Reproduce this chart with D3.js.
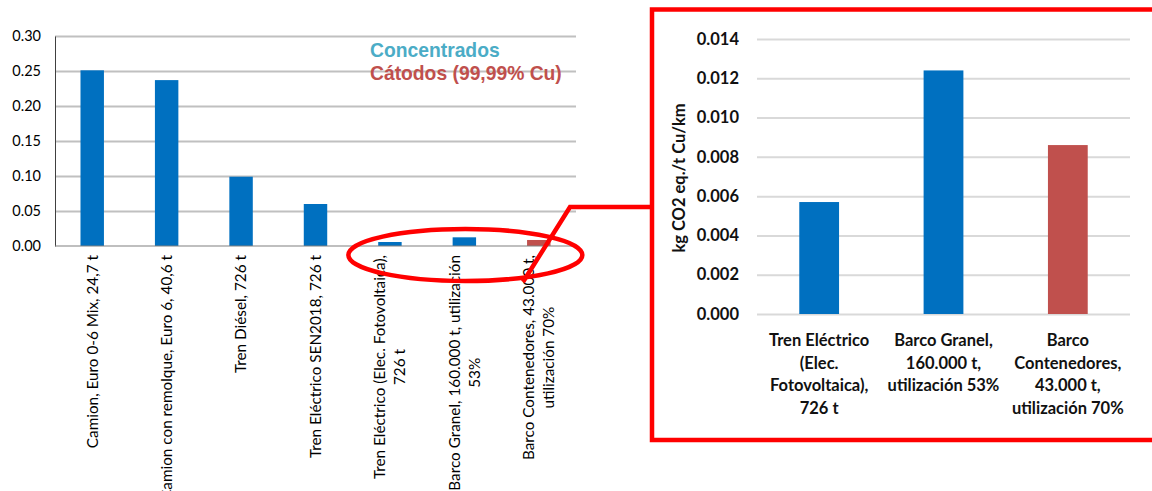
<!DOCTYPE html>
<html>
<head>
<meta charset="utf-8">
<script src="https://cdn.jsdelivr.net/npm/d3@7"></script>
<style>
  html, body { margin: 0; padding: 0; background: #ffffff; }
  svg { display: block; }
</style>
</head>
<body>
<svg id="chart" width="1152" height="491"></svg>
<script>
// Emission factors per transport mode (kg CO2 eq. / t Cu / km)
const categories = [
  ["Camion, Euro 0-6 Mix, 24,7 t"],
  ["Camion con remolque, Euro 6, 40,6 t"],
  ["Tren Diésel, 726 t"],
  ["Tren Eléctrico SEN2018, 726 t"],
  ["Tren Eléctrico (Elec. Fotovoltaica),", "726 t"],
  ["Barco Granel, 160.000 t, utilización", "53%"],
  ["Barco Contenedores, 43.000 t,", "utilización 70%"]
];
const values = [0.251, 0.237, 0.099, 0.060, 0.0057, 0.0124, 0.0086];
const products = ["Concentrados", "Concentrados", "Concentrados", "Concentrados",
                  "Concentrados", "Concentrados", "Cátodos"];
const productNames = ["Concentrados", "Cátodos (99,99% Cu)"];

// Detail panel: the three low-emission modes
const detailIndex = [4, 5, 6];
const detailLabels = [
  ["Tren Eléctrico", "(Elec.", "Fotovoltaica),", "726 t"],
  ["Barco Granel,", "160.000 t,", "utilización 53%"],
  ["Barco", "Contenedores,", "43.000 t,", "utilización 70%"]
];

const mainTicks = [0, 0.05, 0.10, 0.15, 0.20, 0.25, 0.30];
const detailTicks = [0, 0.002, 0.004, 0.006, 0.008, 0.010, 0.012, 0.014];
const yTitle = "kg CO2 eq./t Cu/km";

const barColor = d3.scaleOrdinal()
  .domain(["Concentrados", "Cátodos"])
  .range(["#0070c0", "#c0504d"]);
const legendColor = ["#4bacc6", "#c0504d"];

const svg = d3.select("#chart");
const FONT = "Lato, 'Liberation Sans', sans-serif";

/* ---------------- main chart ---------------- */
const M = { left: 55, right: 576, top: 36, bottom: 246 };
const x = d3.scaleBand().domain(d3.range(values.length)).range([M.left, M.right]).padding(0);
const y = d3.scaleLinear().domain([0, 0.30]).range([M.bottom, M.top]);
const barW = x.bandwidth() * 0.315;

const main = svg.append("g");

// gridlines
main.append("g")
  .attr("transform", `translate(${M.left},0)`)
  .call(d3.axisLeft(y).tickValues(mainTicks.slice(1)).tickSize(-(M.right - M.left)).tickFormat(""))
  .call(g => g.select(".domain").remove())
  .call(g => g.selectAll("line").attr("stroke", "#c0c0c0").attr("stroke-width", 1.8));

// y axis labels
main.append("g")
  .attr("transform", `translate(${M.left},0)`)
  .call(d3.axisLeft(y).tickValues(mainTicks).tickSize(0).tickPadding(14).tickFormat(d3.format(".2f")))
  .call(g => g.select(".domain").attr("stroke", "#404040").attr("stroke-width", 1))
  .call(g => g.selectAll("text").attr("font-family", FONT).attr("font-size", 14.5).attr("fill", "#000"));

// bars
main.append("g").selectAll("rect")
  .data(values)
  .join("rect")
  .attr("x", (d, i) => x(i) + (x.bandwidth() - barW) / 2)
  .attr("width", barW)
  .attr("y", d => y(d))
  .attr("height", d => y(0) - y(d))
  .attr("fill", (d, i) => barColor(products[i]));

// x axis line
main.append("line")
  .attr("x1", M.left).attr("x2", M.right)
  .attr("y1", y(0)).attr("y2", y(0))
  .attr("stroke", "#808080").attr("stroke-width", 1.2);

// rotated category labels
const lineH = 20;
const catG = main.append("g").selectAll("g")
  .data(categories)
  .join("g")
  .attr("transform", (d, i) => `translate(${x(i) + x.bandwidth() / 2},255) rotate(-90)`);
catG.each(function(lines) {
  const g = d3.select(this);
  const texts = lines.map((t, j) => g.append("text")
    .attr("font-family", FONT).attr("font-size", 15.3).attr("fill", "#000")
    .attr("text-anchor", "middle")
    .attr("dy", "0.35em")
    .attr("y", (j - (lines.length - 1) / 2) * lineH)
    .text(t));
  const maxW = d3.max(texts, t => t.node().getComputedTextLength());
  texts.forEach(t => t.attr("x", -maxW / 2));
});

// legend as coloured text
main.append("g").selectAll("text")
  .data(productNames)
  .join("text")
  .attr("x", 370)
  .attr("y", (d, i) => 57 + i * 23)
  .attr("font-family", "'Liberation Sans', Arial, sans-serif")
  .attr("font-weight", "bold")
  .attr("font-size", 19.3)
  .attr("fill", (d, i) => legendColor[i])
  .text(d => d);

/* ---------------- detail panel ---------------- */
const D = { left: 757, right: 1130, top: 39, bottom: 314 };
const dx = d3.scaleBand().domain(d3.range(detailIndex.length)).range([D.left, D.right]).padding(0);
const dy = d3.scaleLinear().domain([0, 0.014]).range([D.bottom, D.top]);
const dBarW = dx.bandwidth() * 0.32;

const det = svg.append("g");

det.append("g")
  .attr("transform", `translate(${D.left},0)`)
  .call(d3.axisLeft(dy).tickValues(detailTicks).tickSize(-(D.right - D.left)).tickFormat(""))
  .call(g => g.select(".domain").remove())
  .call(g => g.selectAll("line").attr("stroke", "#d9d9d9").attr("stroke-width", 2));

det.append("g")
  .attr("transform", `translate(${D.left},0)`)
  .call(d3.axisLeft(dy).tickValues(detailTicks).tickSize(0).tickPadding(18).tickFormat(d3.format(".3f")))
  .call(g => g.select(".domain").remove())
  .call(g => g.selectAll("text").attr("font-family", FONT).attr("font-weight", "bold")
    .attr("font-size", 16.5).attr("fill", "#111"));

det.append("g").selectAll("rect")
  .data(detailIndex)
  .join("rect")
  .attr("x", (d, i) => dx(i) + (dx.bandwidth() - dBarW) / 2)
  .attr("width", dBarW)
  .attr("y", d => dy(values[d]))
  .attr("height", d => dy(0) - dy(values[d]))
  .attr("fill", d => barColor(products[d]));

// category labels under the detail bars
det.append("g").selectAll("text")
  .data(detailLabels)
  .join("text")
  .attr("text-anchor", "middle")
  .attr("font-family", FONT).attr("font-weight", "bold")
  .attr("font-size", 16.5).attr("fill", "#111")
  .each(function(lines, i) {
    d3.select(this).selectAll("tspan")
      .data(lines)
      .join("tspan")
      .attr("x", dx(i) + dx.bandwidth() / 2)
      .attr("y", (l, j) => 346 + j * 22.7)
      .text(l => l);
  });

// y axis title
det.append("text")
  .attr("transform", `translate(685,178) rotate(-90)`)
  .attr("text-anchor", "middle")
  .attr("font-family", FONT).attr("font-weight", "bold")
  .attr("font-size", 16.5).attr("fill", "#111")
  .text(yTitle);

/* ---------------- callout ---------------- */
const callout = svg.append("g")
  .attr("fill", "none").attr("stroke", "#ff0000").attr("stroke-width", 4.5);

callout.append("ellipse")
  .attr("cx", (x(4) + x(6) + x.bandwidth()) / 2 + 1)
  .attr("cy", y(0) + 9)
  .attr("rx", 117).attr("ry", 26);

callout.append("path")
  .attr("d", d3.line()([[523, 282], [570, 207], [652, 207]]));

callout.append("path")
  .attr("d", d3.line()([[1160, 9.5], [652, 9.5], [652, 440], [1160, 440]]));
</script>
</body>
</html>
